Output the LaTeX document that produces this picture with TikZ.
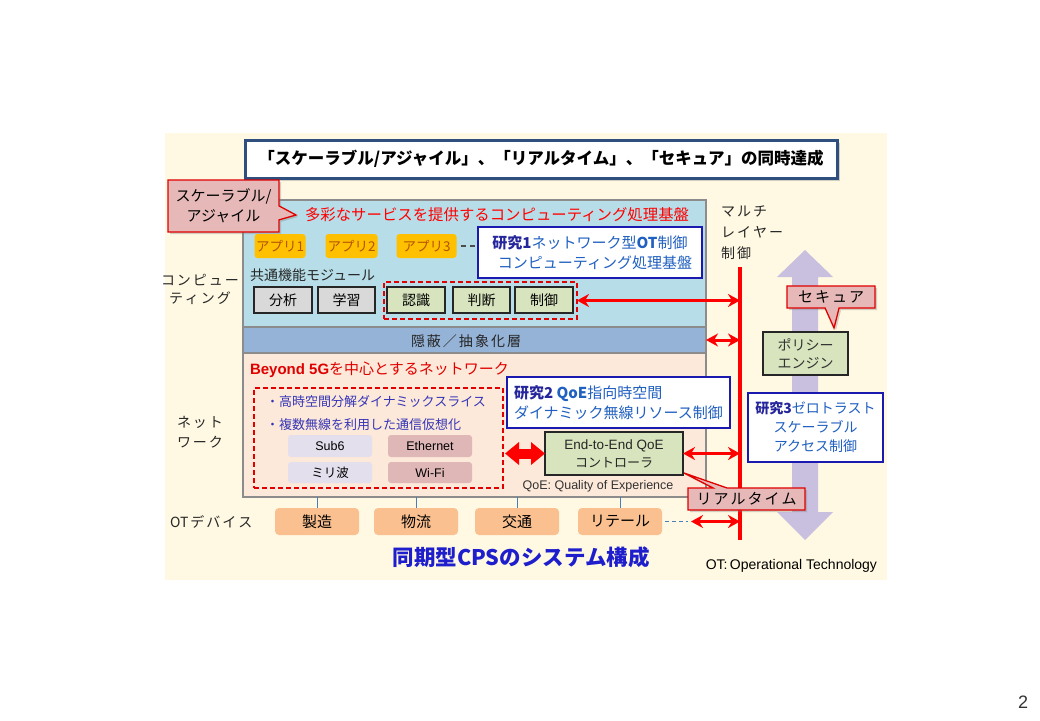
\documentclass[tikz,border=0pt]{standalone}
\usepackage{fontspec}
\setmainfont{Noto Sans CJK JP}
\newfontfamily\lat{Liberation Sans}
\usetikzlibrary{arrows.meta,shadows,shapes.callouts}
\definecolor{cream}{HTML}{FFF9E3}
\definecolor{compblue}{HTML}{B7DEE8}
\definecolor{hidblue}{HTML}{95B3D7}
\definecolor{netpeach}{HTML}{FDE9D9}
\definecolor{panelgray}{HTML}{8C8C8C}
\definecolor{callpink}{HTML}{E6B9B8}
\definecolor{callred}{HTML}{E00000}
\definecolor{apporange}{HTML}{FFC000}
\definecolor{apptext}{HTML}{B35300}
\definecolor{modgray}{HTML}{D9D9D9}
\definecolor{modgreen}{HTML}{D7E4BD}
\definecolor{otpeach}{HTML}{FAC090}
\definecolor{lav}{HTML}{C8C0DE}
\definecolor{sublav}{HTML}{E4DFEC}
\definecolor{subpink}{HTML}{E0B7B7}
\definecolor{rblue}{HTML}{2060C0}
\definecolor{rnavy}{HTML}{26269C}
\definecolor{rborder}{HTML}{1A1AB0}
\definecolor{bultext}{HTML}{3535B8}
\definecolor{titleborder}{HTML}{2F4F7F}
\definecolor{cpsblue}{HTML}{1E1ECC}
\definecolor{linkblue}{HTML}{4A7EBB}
\newcommand\fz[2]{\fontsize{#1}{#2}\selectfont}
\newcommand\kspc{\hspace{2pt}}
\begin{document}
\begin{tikzpicture}[x=1pt,y=-1pt,
  every node/.style={inner sep=0pt, outer sep=0pt},
  panel/.style={draw=panelgray, line width=1.2pt},
  callbox/.style={rectangle callout, callout pointer width=14pt, fill=callpink, draw=callred, line width=1.3pt,
     drop shadow={opacity=0.35, shadow xshift=2pt, shadow yshift=-2pt}},
  appbox/.style={fill=apporange, rounded corners=3pt, minimum height=24pt, text=apptext, font=\fz{13.5}{16}},
  modbox/.style={draw=black!85, line width=1.5pt, minimum width=57pt, minimum height=26pt, font=\fz{14}{17}},
  rbox/.style={draw=rborder, line width=2pt, fill=white, text=rblue},
  grpbox/.style={draw=callred, line width=1.5pt, dash pattern=on 5pt off 3pt},
  subbox/.style={rounded corners=3pt, minimum width=84pt, font=\lat\fz{12.5}{15}},
  otbox/.style={fill=otpeach, rounded corners=4pt, minimum width=84pt, minimum height=27pt, font=\fz{15}{18}},
  rarrow/.style={draw=red, line width=3pt, {Stealth[length=12pt,width=13pt]}-{Stealth[length=12pt,width=13pt]}},
  sidelabel/.style={font=\fz{14}{18}, align=center, text=black!85}
]
\fill[white] (0,0) rectangle (1040,720);
\useasboundingbox (0,0) rectangle (1040,720);
\fill[cream] (165,133) rectangle (887,580);

% title
\node[draw=titleborder, line width=3pt, fill=white, minimum width=592pt, minimum height=38pt,
  drop shadow={opacity=0.35, shadow xshift=3pt, shadow yshift=-3pt}, font=\bfseries\fz{16.5}{19}]
  (title) at (541,159) {「スケーラブル/アジャイル」、「リアルタイム」、「セキュア」の同時達成};

% panels
\node[panel, fill=compblue, minimum width=463pt, minimum height=127pt] (comp) at (474.5,263.5) {};
\node[panel, fill=netpeach, minimum width=463pt, minimum height=144pt] (net) at (474.5,425) {};
\node[panel, fill=hidblue, minimum width=463pt, minimum height=26pt] (hid) at (474.5,340) {};
\node[font=\fz{14}{17}, text=black!85] (hidtxt) at (466,341) {隠\kspc 蔽\kspc／\kspc 抽\kspc 象\kspc 化\kspc 層};

% side labels
\node[sidelabel, font=\fz{14}{18}] (lcomp) at (200,289) {コ\kspc ン\kspc ピ\kspc ュ\kspc ー\\テ\kspc ィ\kspc ン\kspc グ};
\node[sidelabel, font=\fz{14}{20}] (lnet) at (200,432) {ネ\kspc ッ\kspc ト\\ワ\kspc ー\kspc ク};
\node[anchor=west, font=\fz{14}{17}, text=black!85] (lot) at (170,522) {OT\kspc デ\kspc バ\kspc イ\kspc ス};

% computing layer
\node[callbox, callout absolute pointer={(296,215)}, minimum width=111pt, minimum height=52pt, align=center, font=\fz{15}{20}]
  (scal) at (223.5,206) {スケーラブル/\\アジャイル};
\node[anchor=west, text=red, font=\fz{15.4}{19}] (comptitle) at (305,215) {多彩なサービスを提供するコンピューティング処理基盤};
\node[appbox, minimum width=51pt] (app1) at (280,246) {アプリ1};
\node[appbox, minimum width=52pt] (app2) at (351.5,246) {アプリ2};
\node[appbox, minimum width=60pt] (app3) at (426.5,246) {アプリ3};
\node[rbox, minimum width=224pt, minimum height=51pt, align=center, font=\fz{15}{20}]
  (r1) at (590,252.5) {{\bfseries\color{rnavy}研究1}ネットワーク型{\bfseries OT}制御\\\hspace*{10pt}コンピューティング処理基盤};
\draw[black!70, line width=1.2pt, dash pattern=on 5pt off 4pt] (app3.east) ++(4pt,0) -- (r1.west |- app3.east);
\node[anchor=west, font=\fz{14}{17}, text=black!85] (common) at (250,275) {共通機能モジュール};
\node[modbox, fill=modgray, minimum width=58pt] (bunseki) at (283,300) {分析};
\node[modbox, fill=modgray] (gakushu) at (346.5,300) {学習};
\node[modbox, fill=modgreen, minimum width=58pt] (ninshiki) at (416,300) {認識};
\node[modbox, fill=modgreen] (handan) at (481.5,300) {判断};
\node[modbox, fill=modgreen, minimum width=58pt] (seigyo) at (544,300) {制御};
\node[grpbox, minimum width=193pt, minimum height=37pt] (ctrlgrp) at (480.5,300.5) {};

% multilayer control
\node[anchor=west, align=left, font=\fz{14}{21}, text=black!85] (multi) at (721,233) {マ\kspc ル\kspc チ\\レ\kspc イ\kspc ヤ\kspc ー\\制\kspc 御};
\fill[lav] (805,250) -- (833,277) -- (818,277) -- (818,512) -- (833,512) -- (805,540) -- (777,512) -- (792,512) -- (792,277) -- (777,277) -- cycle;
\coordinate (lt) at (740,267);
\coordinate (lb) at (740,540);
\draw[red, line width=4.5pt] (lt) -- (lb);
\draw[rarrow] (ctrlgrp.east) -- (ctrlgrp.east -| lt);
\draw[rarrow] (hid.east) -- (hid.east -| lt);

\node[callbox, callout absolute pointer={(834,328)}, minimum width=88pt, minimum height=22pt, font=\fz{15}{18}]
  (secure) at (831,297) {セ\kspc キ\kspc ュ\kspc ア};
\node[draw=black!85, line width=1.5pt, fill=modgreen, minimum width=85pt, minimum height=43pt, align=center, font=\fz{14}{18}, text=black!80]
  (policy) at (805.5,353.5) {ポリシー\\エンジン};
\node[rbox, minimum width=135pt, minimum height=69pt, align=center, font=\fz{14}{19}]
  (r3) at (815.5,427.5) {{\bfseries\color{rnavy}研究3}ゼロトラスト\\スケーラブル\\アクセス制御};

% network layer
\node[anchor=west, font=\fz{15}{18}, text=callred] (nettitle) at (250,370) {{\lat\bfseries Beyond 5G}を中心とするネットワーク};
\node[grpbox, minimum width=249pt, minimum height=100pt] (netgrp) at (378.5,438) {};
\node[anchor=west, text=bultext, font=\fz{13}{16}] (bul1) at (266,402) {・高時空間分解ダイナミックスライス};
\node[anchor=west, text=bultext, font=\fz{13}{16}] (bul2) at (266,425) {・複数無線を利用した通信仮想化};
\node[subbox, fill=sublav, minimum height=22pt] (sub6) at (330,446) {Sub6};
\node[subbox, fill=subpink, minimum height=22pt] (eth) at (430,446) {Ethernet};
\node[subbox, fill=sublav, minimum height=21pt, font=\fz{12.5}{15}] (mili) at (330,472.5) {ミリ波};
\node[subbox, fill=subpink, minimum height=21pt] (wifi) at (430,472.5) {Wi-Fi};
\node[rbox, minimum width=223pt, minimum height=51pt, align=left, font=\fz{15}{20}]
  (r2) at (618.5,402.5) {{\bfseries\color{rnavy}研究2} {\bfseries QoE}指向時空間\\ダイナミック無線リソース制御};
\node[draw=black!85, line width=1.5pt, fill=modgreen, minimum width=138pt, minimum height=43pt, align=center, text=black!85, font=\fz{13}{18}]
  (e2e) at (614,453.5) {{\lat\fz{13.5}{18}End-to-End QoE}\\{\fz{13}{18}コントローラ}};
\draw[red, line width=10pt, {Triangle[length=14pt,width=22pt]}-{Triangle[length=14pt,width=22pt]}]
  ([xshift=2pt]netgrp.east |- e2e.west) -- (e2e.west);
\draw[rarrow] (e2e.east) -- (e2e.east -| lt);
\node[font=\lat\fz{12.5}{15}, text=black!80] (qoe) at (598,486) {QoE:\ Quality\ of Experience};
\node[callbox, callout absolute pointer={(684,473)}, minimum width=117pt, minimum height=22pt, font=\fz{15}{18}]
  (realtime) at (746.5,499) {リ\kspc ア\kspc ル\kspc タ\kspc イ\kspc ム};

% OT devices
\node[otbox] (mfg) at (317,521.5) {製造};
\node[otbox] (logi) at (416,521.5) {物流};
\node[otbox] (traffic) at (517,521.5) {交通};
\node[otbox] (retail) at (620,521.5) {リテール};
\foreach \b in {mfg,logi,traffic,retail}
  \draw[linkblue, line width=1pt] (\b.north) -- (\b.north |- net.south);
\coordinate (otend) at (691,521.5);
\draw[linkblue, line width=1.2pt, dash pattern=on 4pt off 3pt] ([xshift=3pt]retail.east) -- ([xshift=-3pt]otend);
\draw[rarrow] (otend) -- (otend -| lt);

% footer texts
\node[font=\bfseries\fz{21.5}{25}, text=cpsblue] (cps) at (521,557) {同期型CPSのシステム構成};
\node[anchor=east, font=\lat\fz{14}{17}] (otnote) at (877,566) {OT:\,Operational Technology};
\node[font=\lat\fz{18}{20}, text=black!80] (pnum) at (1023,702) {2};
\end{tikzpicture}
\end{document}
